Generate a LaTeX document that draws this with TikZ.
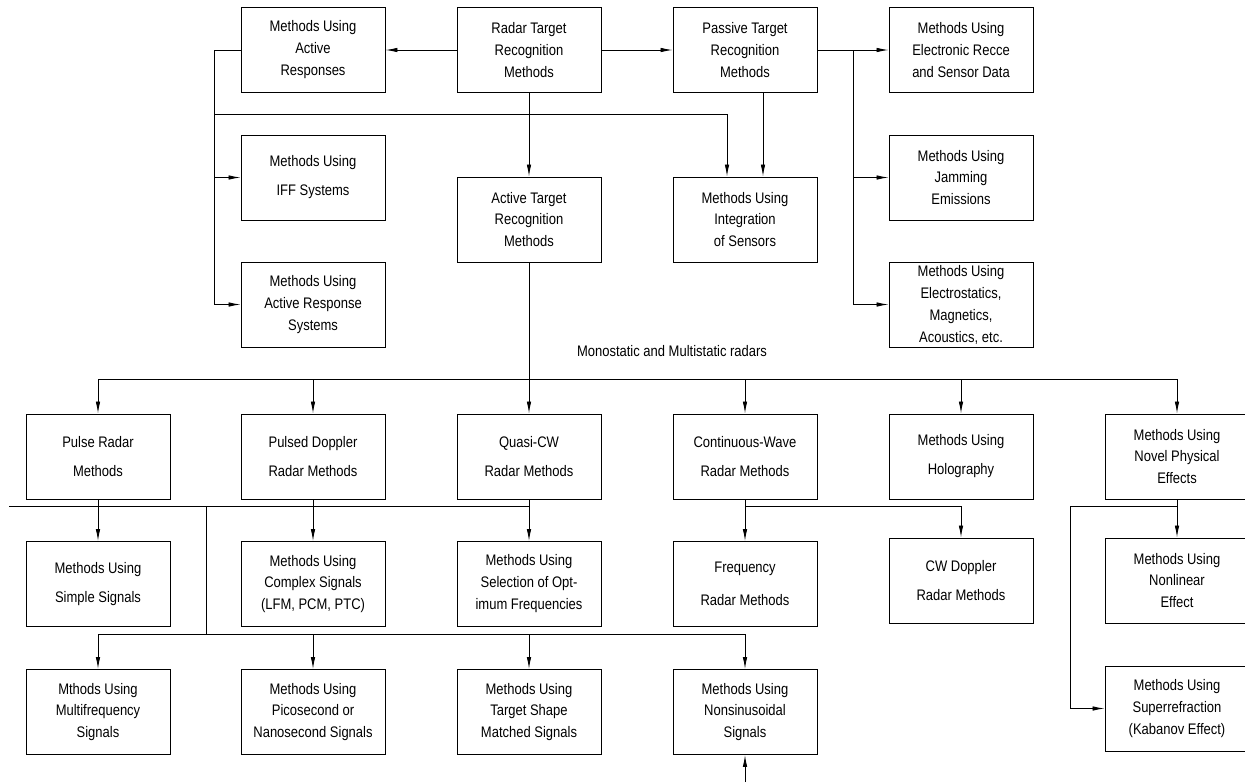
\documentclass[tikz,border=0pt]{standalone}
\usepackage{fontspec}
\setmainfont{Liberation Sans}[FakeStretch=0.85]
\usetikzlibrary{arrows.meta,calc,positioning}
\newcommand{\boxfont}{\fontsize{8.7}{12.5}\selectfont}

\begin{document}
\begin{tikzpicture}[
  x=0.02cm, y=-0.02cm,
  every node/.style={font=\boxfont},
  box/.style={draw,line width=0.55pt,minimum width=2.88cm,minimum height=1.7cm,
    inner sep=0pt,align=center},
  arr/.style={-{Latex[length=2.4mm,width=0.9mm]},line width=0.5pt},
  ln/.style={line width=0.5pt}
]
\useasboundingbox (0,0) rectangle (1245,782);
\clip (0,0) rectangle (1245,782);
% top rows
\node[box] (actresp) at (313,50) {Methods Using\\Active\\Responses};
\node[box] (radar) at (529,50) {Radar Target\\Recognition\\Methods};
\node[box] (passive) at (745,50) {Passive Target\\Recognition\\Methods};
\node[box] (recce) at (961,50) {Methods Using\\Electronic Recce\\and Sensor Data};
\node[box] (iff) at (313,177.5) {Methods Using\\[4pt]IFF Systems};
\node[box] (acttarget) at (529,219.5) {Active Target\\Recognition\\Methods};
\node[box] (integ) at (745,219.5) {Methods Using\\Integration\\of Sensors};
\node[box] (jamming) at (961,177.5) {Methods Using\\Jamming\\Emissions};
\node[box] (actsys) at (313,304.5) {Methods Using\\Active Response\\Systems};
\node[box] (electro) at (961,304.5) {Methods Using\\Electrostatics,\\Magnetics,\\Acoustics, etc.};
% radar types
\node[box] (pulse) at (98,456.5) {Pulse Radar\\[4pt]Methods};
\node[box] (pdoppler) at (313,456.5) {Pulsed Doppler\\[4pt]Radar Methods};
\node[box] (quasi) at (529,456.5) {Quasi-CW\\[4pt]Radar Methods};
\node[box] (cwave) at (745,456.5) {Continuous-Wave\\[4pt]Radar Methods};
\node[box] (holo) at (961,456.5) {Methods Using\\[4pt]Holography};
\node[box] (novel) at (1177,456.5) {Methods Using\\Novel Physical\\Effects};
% signal methods
\node[box] (simple) at (98,584) {Methods Using\\[4pt]Simple Signals};
\node[box] (complex) at (313,584) {Methods Using\\Complex Signals\\(LFM, PCM, PTC)};
\node[box] (optfreq) at (529,584) {Methods Using\\Selection of Opt-\\imum Frequencies};
\node[box] (freqradar) at (745,584) {Frequency\\[6pt]Radar Methods};
\node[box] (cwdoppler) at (961,580.5) {CW Doppler\\[4pt]Radar Methods};
\node[box] (nonlin) at (1177,580.5) {Methods Using\\Nonlinear\\Effect};
\node[box] (multi) at (98,712) {Mthods Using\\Multifrequency\\Signals};
\node[box] (pico) at (313,712) {Methods Using\\Picosecond or\\Nanosecond Signals};
\node[box] (shape) at (529,712) {Methods Using\\Target Shape\\Matched Signals};
\node[box] (nonsin) at (745,712) {Methods Using\\Nonsinusoidal\\Signals};
\node[box] (superref) at (1177,708.5) {Methods Using\\Superrefraction\\(Kabanov Effect)};
\node (mono) at (672,351) {Monostatic and Multistatic radars};

% joints
\coordinate (jl) at (214,50);
\coordinate (jl2) at (214,114);
\coordinate (jr) at (853,50);
\coordinate (bus) at (529,379);
\coordinate (l1) at (9,506);
\coordinate (r1) at (1070,506);
\coordinate (b1) at (206,506);
\coordinate (b2) at (206,634);
\coordinate (nin) at (745,782);

% top connectors
\draw[arr] (radar) -- (actresp);
\draw[arr] (radar) -- (passive);
\draw[arr] (passive) -- (recce);
\draw[arr] (jr) |- (jamming);
\draw[arr] (jr) |- (electro);
\draw[ln] (actresp) -- (jl);
\draw[arr] (jl) |- (iff);
\draw[arr] (jl) |- (actsys);
\draw[arr] (jl2) -| ([xshift=-0.36cm]integ.north);
\draw[arr] (radar) -- (acttarget);
\draw[arr] ([xshift=0.36cm]passive.south) -- ([xshift=0.36cm]integ.north);
% radar bus
\draw[ln] (acttarget) -- (bus);
\foreach \n in {pulse,pdoppler,quasi,cwave,holo,novel}
  \draw[arr] (bus) -| (\n);
% lower connectors
\draw[ln] (l1) -- (l1 -| quasi);
\draw[arr] (pulse) -- (simple);
\draw[arr] (pdoppler) -- (complex);
\draw[arr] (quasi) -- (optfreq);
\draw[arr] (cwave) -- (freqradar);
\draw[arr] (cwave.south |- l1) -| (cwdoppler);
\draw[arr] (novel) -- (nonlin);
\draw[arr] (novel.south |- r1) -- (r1) |- (superref);
\draw[ln] (b1) -- (b2);
\foreach \n in {multi,pico,shape,nonsin}
  \draw[arr] (b2) -| (\n);
\draw[arr] (nin) -- (nonsin);
\end{tikzpicture}
\end{document}
